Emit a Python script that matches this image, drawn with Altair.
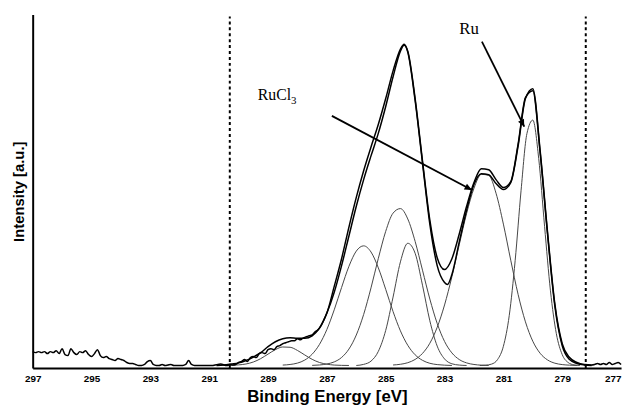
import math
import altair as alt
import pandas as pd

# ---------------- values ----------------
# measured XPS spectrum (binding energy in eV, intensity in a.u.)
data_be = [297.0, 296.9, 296.8, 296.7, 296.6, 296.5, 296.4, 296.3, 296.2, 296.1,
           296.0, 295.9, 295.8, 295.7, 295.6, 295.5, 295.4, 295.3, 295.2, 295.1,
           295.0, 294.9, 294.8, 294.7, 294.6, 294.5, 294.4, 294.3, 294.2, 294.1,
           294.0, 293.9, 293.8, 293.7, 293.6, 293.5, 293.4, 293.3, 293.2, 293.1,
           293.0, 292.9, 292.8, 292.7, 292.6, 292.5, 292.4, 292.3, 292.2, 292.1,
           292.0, 291.9, 291.8, 291.7, 291.6, 291.5, 291.4, 291.3, 291.2, 291.1,
           291.0, 290.9, 290.8, 290.7, 290.6, 290.5, 290.4, 290.3, 290.2, 290.1,
           290.0, 289.9, 289.8, 289.7, 289.6, 289.5, 289.4, 289.3, 289.2, 289.1,
           289.0, 288.9, 288.8, 288.7, 288.6, 288.5, 288.4, 288.3, 288.2, 288.1,
           288.0, 287.9, 287.8, 287.7, 287.6, 287.5, 287.4, 287.3, 287.2, 287.1,
           287.0, 286.75, 286.5, 286.25, 286.0, 285.75, 285.5, 285.25, 285.0, 284.75,
           284.5, 284.375, 284.25, 284.0, 283.75, 283.5, 283.25, 283.0, 282.9, 282.75,
           282.5, 282.25, 282.0, 281.75, 281.5, 281.25, 281.0, 280.75, 280.5, 280.25,
           280.0, 279.75, 279.5, 279.25, 279.0, 278.75, 278.5, 278.25, 278.0, 277.9,
           277.8, 277.7, 277.6, 277.5, 277.4, 277.3, 277.2, 277.1, 277.0]
data_val = [14, 13, 14, 13, 14, 12, 14, 13, 15, 12,
            17, 11, 10, 17, 13, 11, 14, 13, 15, 11,
            9, 12, 16, 10, 8, 9, 7, 6, 5, 7,
            6, 5, 3, 2, 2, 1, 0, 0, 1, 4,
            5, 1, 0, 0, 1, 0, 0.5, 1, 0, 0,
            0, 0, 1, 5, 1, 0, 0, 0, 0, 0,
            0, 0, 0.5, 1, 1.5, 0.5, 0, 1, 0.5, 1,
            3, 4, 6, 4, 8, 9, 8, 12, 13, 12,
            16, 17, 16, 19, 20, 22, 23, 24, 25, 25,
            27, 26, 28, 29, 30, 31, 34, 36, 40, 46,
            53, 80, 108, 140, 170, 197, 221, 244, 270, 298,
            320, 325, 317, 268, 205, 143, 101, 84, 82, 92,
            125, 157, 183, 194, 193, 184, 178, 185, 222, 270,
            280, 217, 135, 62, 22, 8, 3, 1, 0.5, 1,
            2, 1, 2, 1, 3, 1, 2, 3, 1]

# fitted envelope
fit_be = [290.75, 290.5, 290.25, 290.0, 289.75, 289.5, 289.25, 289.0, 288.75, 288.5,
          288.25, 288.0, 287.75, 287.5, 287.25, 287.0, 286.75, 286.5, 286.25, 286.0,
          285.75, 285.5, 285.25, 285.0, 284.75, 284.5, 284.375, 284.25, 284.0, 283.75,
          283.5, 283.25, 283.0, 282.75, 282.5, 282.25, 282.0, 281.75, 281.5, 281.25,
          281.0, 280.75, 280.5, 280.25, 280.0, 279.75, 279.5, 279.25, 279.0, 278.75,
          278.5, 278.25, 278.0]
fit_val = [0, 0.5, 1.5, 2.6, 5, 8.5, 13, 19, 24, 27,
           28, 27.5, 27.5, 30, 38, 53, 74, 101, 131, 161,
           188, 212, 235, 262, 292, 318, 324, 318, 270, 207,
           147, 109, 97, 108, 133, 161, 185, 199, 198, 188,
           180, 186, 224, 271, 278, 215, 133, 60, 20, 6,
           2, 0.5, 0]

# fitted components
c1_be = [290.5, 290.25, 290.0, 289.75, 289.5, 289.25, 289.0, 288.75, 288.5, 288.25,
         288.0, 287.75, 287.5, 287.25, 287.0, 286.75, 286.5, 286.25]
c1_val = [0, 0.2, 0.6, 1.5, 3.5, 6.9, 11.5, 16.0, 18.7, 18.4,
          15.2, 10.6, 6.2, 3.0, 1.3, 0.4, 0.1, 0]

c2_be = [288.5, 288.25, 288.0, 287.75, 287.5, 287.25, 287.0, 286.75, 286.5, 286.25,
         286.0, 285.75, 285.5, 285.25, 285.0, 284.75, 284.5, 284.25, 284.0, 283.75,
         283.5, 283.25, 283.0, 282.75]
c2_val = [0.4, 1.0, 2.4, 5.5, 11.4, 21.4, 36.4, 56.3, 78.9, 100.3,
          115.7, 121, 114.8, 98.7, 77.0, 54.5, 35.0, 20.4, 10.8, 5.2,
          2.2, 0.9, 0.3, 0]

c3_be = [287.5, 287.25, 287.0, 286.75, 286.5, 286.25, 286.0, 285.75, 285.5, 285.25,
         285.0, 284.75, 284.5, 284.25, 284.0, 283.75, 283.5, 283.25, 283.0, 282.75,
         282.5, 282.25, 282.0, 281.75, 281.5]
c3_val = [0.1, 0.5, 1.5, 3.6, 8.1, 16.6, 30.8, 51.6, 78.5, 108.4,
          135.7, 154.1, 158.7, 148.2, 125.5, 96.4, 67.2, 42.5, 24.3, 12.7,
          6.0, 2.6, 1.0, 0.3, 0]

c4_be = [286.0, 285.75, 285.5, 285.25, 285.0, 284.75, 284.5, 284.25, 284.0, 283.75,
         283.5, 283.25, 283.0, 282.75, 282.5, 282.25]
c4_val = [0, 1.1, 4.4, 14.3, 35.5, 69.2, 104.8, 123.6, 113.5, 81.2,
          45.2, 19.6, 6.6, 1.7, 0.4, 0]

c5_be = [284.75, 284.5, 284.25, 284.0, 283.75, 283.5, 283.25, 283.0, 282.75, 282.5,
         282.25, 282.0, 281.75, 281.5, 281.25, 281.0, 280.75, 280.5, 280.25, 280.0,
         279.75, 279.5, 279.25, 279.0, 278.75, 278.5]
c5_val = [0.5, 1.2, 2.8, 6.1, 12.2, 22.5, 38.6, 61.2, 89.8, 122.2,
          153.8, 179.2, 193.3, 192.4, 174.2, 143.0, 106.5, 71.9, 44.1, 24.5,
          12.3, 5.6, 2.3, 0.9, 0.3, 0]

c6_be = [281.8, 281.6, 281.4, 281.2, 281.0, 280.8, 280.6, 280.4, 280.2, 280.0,
         279.8, 279.6, 279.4, 279.2, 279.0, 278.8, 278.6, 278.4]
c6_val = [0, 0.3, 1.4, 5.9, 19.4, 50.7, 106.0, 176.7, 234.6, 248.2,
          209.5, 140.8, 75.5, 32.2, 11.0, 3.0, 0.6, 0]

x_ticks = [297, 295, 293, 291, 289, 287, 285, 283, 281, 279, 277]

# dashed vertical markers
dash_be = [290.3, 278.2]
dash_bottom = -2.5
dash_top = 353

# annotation labels
label_text = ["RuCl", "Ru"]
label_be = [289.35, 282.5]
label_val = [268.5, 335.5]
label_size = [16, 17]
sub_text = ["3"]
sub_be = [288.22]
sub_val = [264.5]

# annotation arrows (start -> end)
arrow_be0 = [286.83, 281.73]
arrow_val0 = [252.5, 327.5]
arrow_be1 = [282.07, 280.29]
arrow_val1 = [177.5, 241.5]

# ---------------- chart ----------------
W, H = 596, 358
X_DOM = [277, 297]
Y_DOM = [-2.5, 355]

rows = []
for name, bes, vals in [("data", data_be, data_val), ("fit", fit_be, fit_val),
                        ("c1", c1_be, c1_val), ("c2", c2_be, c2_val),
                        ("c3", c3_be, c3_val), ("c4", c4_be, c4_val),
                        ("c5", c5_be, c5_val), ("c6", c6_be, c6_val)]:
    for b, v in zip(bes, vals):
        rows.append({"series": name, "be": b, "val": v})
df = pd.DataFrame(rows)

xs = alt.Scale(domain=X_DOM, reverse=True, nice=False, zero=False)
ys = alt.Scale(domain=Y_DOM, nice=False, zero=False)

x_axis = alt.Axis(values=x_ticks, format="d", labelFont="Liberation Sans",
                  labelFontSize=10, labelFontWeight="bold", labelColor="black",
                  labelPadding=6, labelFlush=False, labelOverlap=False,
                  labelAlign={"condition": {"test": "datum.value == %d" % X_DOM[0],
                                            "value": "right"},
                              "value": "center"},
                  ticks=False, tickSize=0, grid=False,
                  domainColor="black", domainWidth=2,
                  titleFont="Liberation Sans", titleFontSize=17,
                  titleFontWeight="bold", titleColor="black", titlePadding=5)
y_axis = alt.Axis(labels=False, ticks=False, tickSize=0, grid=False,
                  domainColor="black", domainWidth=2,
                  titleFont="Liberation Sans", titleFontSize=15,
                  titleFontWeight="bold", titleColor="black", titlePadding=6)

X = alt.X("be:Q", scale=xs, axis=x_axis, title="Binding Energy [eV]")
Y = alt.Y("val:Q", scale=ys, axis=y_axis, title="Intensity [a.u.]")

base = alt.Chart(df)

comps = base.transform_filter(
    alt.FieldOneOfPredicate(field="series", oneOf=["c1", "c2", "c3", "c4", "c5", "c6"])
).mark_line(color="#444444", strokeWidth=1, interpolate="monotone").encode(
    x=X, y=Y, detail="series:N")

fit = base.transform_filter(alt.datum.series == "fit").mark_line(
    color="black", strokeWidth=1.5, interpolate="monotone").encode(x=X, y=Y)

data = base.transform_filter(alt.datum.series == "data").mark_line(
    color="black", strokeWidth=1.5, interpolate="monotone").encode(x=X, y=Y)

df_dash = pd.DataFrame({"be": dash_be, "y0": [dash_bottom] * len(dash_be),
                        "y1": [dash_top] * len(dash_be)})
dashes = alt.Chart(df_dash).mark_rule(color="black", strokeWidth=2,
                                      strokeDash=[3, 3]).encode(
    x=alt.X("be:Q", scale=xs), y=alt.Y("y0:Q", scale=ys), y2="y1:Q")

# arrow direction in screen space, derived from the scales
px_be = W / (X_DOM[1] - X_DOM[0])
px_val = H / (Y_DOM[1] - Y_DOM[0])
angles = []
for b0, v0, b1, v1 in zip(arrow_be0, arrow_val0, arrow_be1, arrow_val1):
    dx = (b0 - b1) * px_be
    dy = (v0 - v1) * px_val
    angles.append(math.degrees(math.atan2(dy, dx)) % 360)
df_arrow = pd.DataFrame({"be0": arrow_be0, "v0": arrow_val0,
                         "be1": arrow_be1, "v1": arrow_val1, "ang": angles})
arrow_lines = alt.Chart(df_arrow).mark_rule(color="black", strokeWidth=1.8).encode(
    x=alt.X("be0:Q", scale=xs), y=alt.Y("v0:Q", scale=ys), x2="be1:Q", y2="v1:Q")
arrow_heads = alt.Chart(df_arrow).mark_point(
    shape="M0,0L-1,-0.45L-1,0.45Z", filled=True, color="black", opacity=1,
    size=220).encode(
    x=alt.X("be1:Q", scale=xs), y=alt.Y("v1:Q", scale=ys),
    angle=alt.Angle("ang:Q", scale=None))

df_lab = pd.DataFrame({"be": label_be, "val": label_val, "t": label_text,
                       "fs": label_size})
labels = alt.Chart(df_lab).mark_text(font="Liberation Serif",
                                     align="left", baseline="alphabetic",
                                     color="black").encode(
    x=alt.X("be:Q", scale=xs), y=alt.Y("val:Q", scale=ys), text="t:N",
    size=alt.Size("fs:Q", scale=None))
df_sub = pd.DataFrame({"be": sub_be, "val": sub_val, "t": sub_text})
subs = alt.Chart(df_sub).mark_text(font="Liberation Serif", fontSize=11,
                                   align="left", baseline="alphabetic",
                                   color="black").encode(
    x=alt.X("be:Q", scale=xs), y=alt.Y("val:Q", scale=ys), text="t:N")

chart = alt.layer(comps, fit, data, dashes, arrow_lines, arrow_heads, labels, subs).properties(
    width=W, height=H,
    autosize=alt.AutoSizeParams(type="none"),
    padding={"left": 25, "top": 4, "right": 5, "bottom": 40},
    background="white",
).configure_view(stroke=None)

chart.save("out.html", embed_options={"renderer": "svg", "actions": False})
